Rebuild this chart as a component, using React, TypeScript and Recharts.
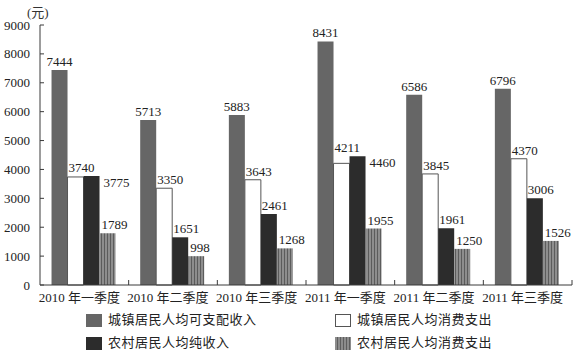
import React from 'react';
import { BarChart, Bar, XAxis, YAxis } from 'recharts';

const categories = ['2010 年一季度', '2010 年二季度', '2010 年三季度', '2011 年一季度', '2011 年二季度', '2011 年三季度'];
const urbanIncome = [7444, 5713, 5883, 8431, 6586, 6796];
const urbanSpending = [3740, 3350, 3643, 4211, 3845, 4370];
const ruralIncome = [3775, 1651, 2461, 4460, 1961, 3006];
const ruralSpending = [1789, 998, 1268, 1955, 1250, 1526];
const yTicks = [0, 1000, 2000, 3000, 4000, 5000, 6000, 7000, 8000, 9000];
const seriesNames = ['城镇居民人均可支配收入', '城镇居民人均消费支出', '农村居民人均纯收入', '农村居民人均消费支出'];
const unitLabel = '(元)';

const data = categories.map((c, i) => ({
  name: c,
  a: urbanIncome[i],
  b: urbanSpending[i],
  c: ruralIncome[i],
  d: ruralSpending[i],
}));

const W = 578;
const H = 352;
const LEFT = 40;
const RIGHT_MARGIN = 6;
const PLOT_W = W - LEFT - RIGHT_MARGIN;
const BAND = PLOT_W / categories.length;
const FONT = "'Liberation Serif', 'Noto Sans CJK SC', serif";
const AXIS = '#3a3a3a';
const GRAY = '#666666';
const DARK = '#2c2c2c';

const XTick = (props: any) => {
  const { x, y, payload } = props;
  return (
    <g>
      <line x1={x + BAND / 2} x2={x + BAND / 2} y1={y - 5} y2={y} stroke={AXIS} strokeWidth={1} />
      <text x={x - 5} y={y + 17} textAnchor="middle" fontSize={13} fill="#222" fontFamily={FONT}>
        {payload.value}
      </text>
    </g>
  );
};

const YTick = (props: any) => {
  const { x, y, payload } = props;
  return (
    <g>
      <line x1={x} x2={x + 4} y1={y} y2={y} stroke={AXIS} strokeWidth={1} />
      <text x={x - 10} y={y + 4.5} textAnchor="end" fontSize={13} fill="#222" fontFamily={FONT}>
        {payload.value}
      </text>
    </g>
  );
};

const centerLabel = (props: any) => {
  const { x, y, width, value } = props;
  return (
    <text x={x + width / 2} y={y - 4} textAnchor="middle" fontSize={13} fill="#222" fontFamily={FONT}>
      {value}
    </text>
  );
};

const urbanSpendingLabel = (props: any) => {
  const { x, y, height, value, index } = props;
  const bottom = y + height;
  const perUnit = value ? height / value : 0;
  const ruralTop = bottom - ruralIncome[index] * perUnit;
  const top = Math.min(y, ruralTop);
  return (
    <text x={x + 1} y={top - 4} textAnchor="start" fontSize={13} fill="#222" fontFamily={FONT}>
      {value}
    </text>
  );
};

const ruralIncomeLabel = (props: any) => {
  const { x, y, width, value, index } = props;
  if (value > urbanSpending[index]) {
    return (
      <text x={x + width + 4} y={y + 11} textAnchor="start" fontSize={13} fill="#222" fontFamily={FONT}>
        {value}
      </text>
    );
  }
  return (
    <text x={x + 1} y={y - 4} textAnchor="start" fontSize={13} fill="#222" fontFamily={FONT}>
      {value}
    </text>
  );
};

const hatchLabel = (props: any) => {
  const { x, y, value } = props;
  return (
    <text x={x + 2} y={y - 4} textAnchor="start" fontSize={13} fill="#222" fontFamily={FONT}>
      {value}
    </text>
  );
};

const swatchStyles: React.CSSProperties[] = [
  { background: GRAY },
  { background: '#fff', border: '1px solid #555', boxSizing: 'border-box' },
  { background: DARK },
  { background: 'repeating-linear-gradient(90deg, #8c8c8c 0px, #8c8c8c 2px, #5e5e5e 2px, #5e5e5e 3px)' },
];

const legendPos = [
  { left: 86, top: 313 },
  { left: 335, top: 313 },
  { left: 86, top: 336 },
  { left: 335, top: 336 },
];

export default function App() {
  return (
    <div style={{ position: 'absolute', left: 0, top: 0, width: W, height: H, background: '#fff' }}>
      <BarChart
        width={W}
        height={H}
        data={data}
        margin={{ top: 25, right: RIGHT_MARGIN, left: 0, bottom: 42 }}
        barCategoryGap="13%"
        barGap={0}
      >
        <defs>
          <pattern id="hatch" width="3" height="4" patternUnits="userSpaceOnUse">
            <rect x="0" y="0" width="3" height="4" fill="#8e8e8e" />
            <rect x="2" y="0" width="1" height="4" fill="#5c5c5c" />
          </pattern>
        </defs>
        <XAxis
          dataKey="name"
          height={25}
          tickLine={false}
          tickSize={0}
          tickMargin={0}
          tick={<XTick />}
          interval={0}
          axisLine={{ stroke: AXIS, strokeWidth: 1 }}
        />
        <YAxis
          width={LEFT}
          domain={[0, 9000]}
          ticks={yTicks}
          interval={0}
          tickLine={false}
          tickSize={0}
          tickMargin={0}
          tick={<YTick />}
          axisLine={{ stroke: AXIS, strokeWidth: 1 }}
        />
        <Bar dataKey="a" name={seriesNames[0]} fill={GRAY} isAnimationActive={false} label={centerLabel} />
        <Bar dataKey="b" name={seriesNames[1]} fill="#fff" stroke="#555" strokeWidth={1} isAnimationActive={false} label={urbanSpendingLabel} />
        <Bar dataKey="c" name={seriesNames[2]} fill={DARK} isAnimationActive={false} label={ruralIncomeLabel} />
        <Bar dataKey="d" name={seriesNames[3]} fill="url(#hatch)" isAnimationActive={false} label={hatchLabel} />
      </BarChart>
      <div style={{ position: 'absolute', left: 27, top: 2, fontSize: 13, fontFamily: FONT, color: '#333' }}>{unitLabel}</div>
      {seriesNames.map((n, i) => (
        <div
          key={n}
          style={{
            position: 'absolute',
            left: legendPos[i].left,
            top: legendPos[i].top,
            display: 'flex',
            alignItems: 'center',
            fontFamily: FONT,
            fontSize: 13,
            color: '#222',
            letterSpacing: 0.5,
            lineHeight: '14px',
          }}
        >
          <span style={{ display: 'inline-block', width: 16, height: 13, marginRight: 6, ...swatchStyles[i] }} />
          <span>{n}</span>
        </div>
      ))}
    </div>
  );
}
